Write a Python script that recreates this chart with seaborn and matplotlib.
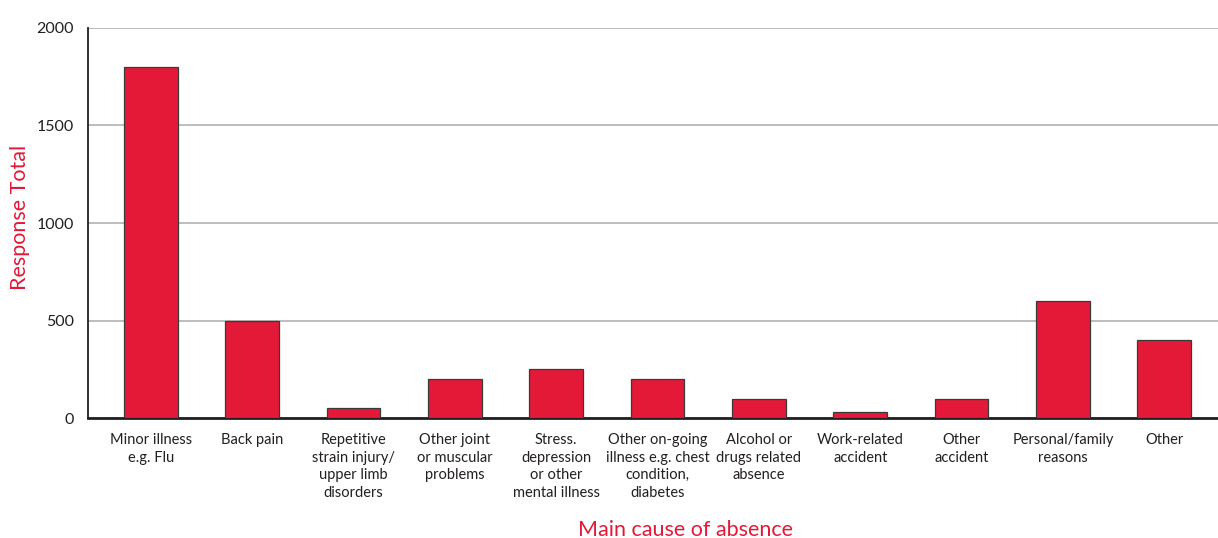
import matplotlib
matplotlib.use("Agg")
import matplotlib.pyplot as plt
import seaborn as sns
import pandas as pd

# Main causes of absence and number of responses for each
causes = [
    "Minor illness\ne.g. Flu",
    "Back pain",
    "Repetitive\nstrain injury/\nupper limb\ndisorders",
    "Other joint\nor muscular\nproblems",
    "Stress.\ndepression\nor other\nmental illness",
    "Other on-going\nillness e.g. chest\ncondition,\ndiabetes",
    "Alcohol or\ndrugs related\nabsence",
    "Work-related\naccident",
    "Other\naccident",
    "Personal/family\nreasons",
    "Other",
]
responses = [1800, 500, 50, 200, 250, 200, 100, 30, 100, 600, 400]
y_ticks = [0, 500, 1000, 1500, 2000]

RED = "#E31937"
TEXT = "#231F20"

sns.set_style("white")
plt.rcParams["font.family"] = ["Lato", "DejaVu Sans"]

df = pd.DataFrame({"cause": causes, "responses": responses})

fig = plt.figure(figsize=(12.18, 5.38), dpi=100)
ax = fig.add_axes([0.0723, 0.223, 0.9277, 0.725])

sns.barplot(data=df, x="cause", y="responses", color=RED, width=0.53,
            edgecolor="#3a3a3a", linewidth=0.9, saturation=1, ax=ax, zorder=3)

ax.set_ylim(0, 2000)
ax.set_xlim(-0.62, 10.53)
ax.set_yticks(y_ticks)
ax.set_yticklabels([str(v) for v in y_ticks], fontsize=11.5, color=TEXT)
ax.tick_params(axis="y", length=0, pad=10)
ax.tick_params(axis="x", length=0, pad=11)
for lbl in ax.get_xticklabels():
    lbl.set_fontsize(10.5)
    lbl.set_color(TEXT)
    lbl.set_linespacing(1.32)
    lbl.set_verticalalignment("top")

ax.yaxis.grid(True, color="#BDBDBD", linewidth=1.4, zorder=0)
ax.xaxis.grid(False)
ax.set_axisbelow(True)

for side in ["top", "right"]:
    ax.spines[side].set_visible(False)
ax.spines["left"].set_color(TEXT)
ax.spines["left"].set_linewidth(1.3)
ax.spines["bottom"].set_color(TEXT)
ax.spines["bottom"].set_linewidth(2)

ax.set_xlabel("Main cause of absence", fontsize=15.5, color=RED)
ax.set_ylabel("Response Total", fontsize=15.5, color=RED)
ax.xaxis.set_label_coords(0.529, -0.262)
ax.yaxis.set_label_coords(-0.051, 0.513)

fig.savefig("out.png", dpi=100)
